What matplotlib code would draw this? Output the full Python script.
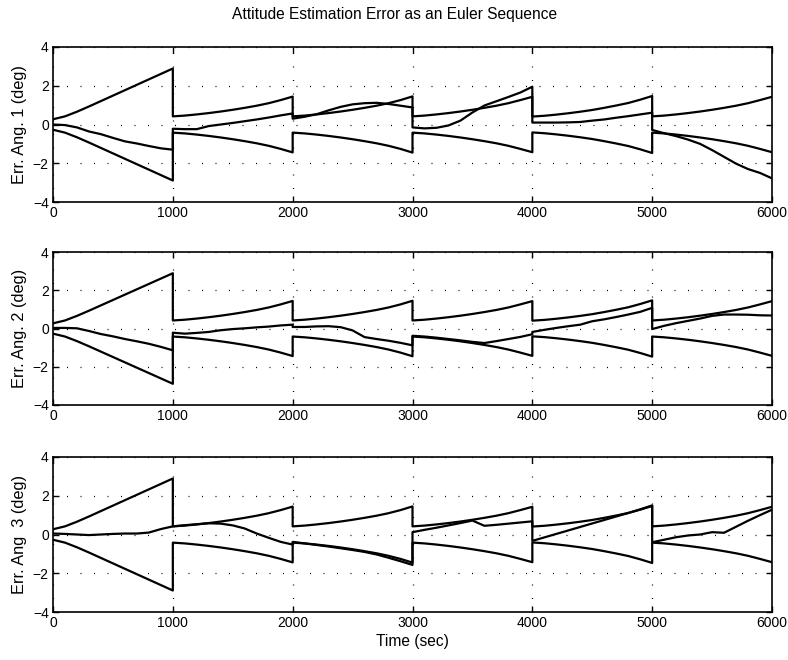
"""Attitude estimation error (3 Euler angles) with +/- bound envelope, MATLAB-style figure."""
import numpy as np
import matplotlib
matplotlib.use('Agg')
import matplotlib.pyplot as plt

plt.rcParams['font.family'] = ['Liberation Sans', 'DejaVu Sans']

# time grid: 100 s steps, every 1000 s the filter resets (duplicated time -> vertical jump)
SEG_STARTS = [0, 1000, 2000, 3000, 4000, 5000]
t = np.concatenate([np.arange(s, s + 1001, 100) for s in SEG_STARTS])

# envelope (deg), same for all three angles; lower envelope is its mirror
bound = (
    [0.27, 0.42, 0.66, 0.93, 1.21, 1.49, 1.77, 2.05, 2.33, 2.61, 2.89]
    + [0.42, 0.46, 0.52, 0.59, 0.67, 0.76, 0.86, 0.97, 1.10, 1.26, 1.44]
    + [0.42, 0.46, 0.52, 0.59, 0.67, 0.76, 0.86, 0.97, 1.10, 1.26, 1.45]
    + [0.42, 0.46, 0.52, 0.59, 0.67, 0.76, 0.86, 0.97, 1.10, 1.26, 1.43]
    + [0.41, 0.45, 0.51, 0.58, 0.66, 0.75, 0.86, 0.98, 1.11, 1.28, 1.47]
    + [0.42, 0.46, 0.52, 0.59, 0.67, 0.76, 0.86, 0.97, 1.10, 1.26, 1.43]
)

err1 = (
    [0.00, -0.03, -0.15, -0.36, -0.50, -0.69, -0.87, -0.98, -1.11, -1.23, -1.30]
    + [-0.22, -0.24, -0.24, -0.08, 0.00, 0.08, 0.17, 0.26, 0.36, 0.47, 0.57]
    + [0.30, 0.40, 0.53, 0.73, 0.91, 1.04, 1.10, 1.12, 1.06, 0.97, 0.88]
    + [-0.15, -0.20, -0.17, -0.05, 0.20, 0.62, 0.98, 1.20, 1.42, 1.65, 1.95]
    + [0.10, 0.10, 0.10, 0.11, 0.13, 0.20, 0.26, 0.35, 0.43, 0.52, 0.61]
    + [-0.28, -0.45, -0.60, -0.78, -1.00, -1.32, -1.67, -2.02, -2.30, -2.50, -2.78]
)

err2 = (
    [0.03, 0.03, 0.01, -0.13, -0.29, -0.41, -0.55, -0.67, -0.80, -0.96, -1.14]
    + [-0.22, -0.27, -0.23, -0.18, -0.09, -0.03, 0.01, 0.06, 0.10, 0.16, 0.20]
    + [0.08, 0.08, 0.11, 0.12, 0.07, -0.10, -0.45, -0.55, -0.64, -0.75, -0.88]
    + [-0.38, -0.42, -0.48, -0.55, -0.62, -0.70, -0.76, -0.66, -0.55, -0.44, -0.30]
    + [-0.18, -0.07, 0.03, 0.12, 0.20, 0.38, 0.48, 0.60, 0.73, 0.87, 1.08]
    + [-0.03, 0.14, 0.28, 0.40, 0.52, 0.66, 0.73, 0.73, 0.72, 0.69, 0.68]
)

err3 = (
    [0.05, 0.03, 0.00, -0.03, 0.00, 0.03, 0.05, 0.05, 0.10, 0.28, 0.42]
    + [0.42, 0.48, 0.53, 0.58, 0.56, 0.47, 0.31, 0.05, -0.17, -0.38, -0.52]
    + [-0.38, -0.46, -0.54, -0.62, -0.71, -0.80, -0.90, -1.03, -1.20, -1.38, -1.57]
    + [0.12, 0.24, 0.35, 0.47, 0.59, 0.72, 0.45, 0.50, 0.56, 0.62, 0.68]
    + [-0.33, -0.15, 0.03, 0.21, 0.39, 0.57, 0.75, 0.93, 1.11, 1.30, 1.50]
    + [-0.40, -0.27, -0.14, -0.05, 0.00, 0.12, 0.09, 0.40, 0.71, 1.00, 1.28]
)

errors = [err1, err2, err3]
ylabels = ['Err. Ang. 1 (deg)', 'Err. Ang. 2 (deg)', 'Err. Ang  3 (deg)']
xticks = [0, 1000, 2000, 3000, 4000, 5000, 6000]
yticks = [-4, -2, 0, 2, 4]

W, H = 788, 660
fig = plt.figure(figsize=(W / 100, H / 100), dpi=100)
# axes boxes in pixels (left, top, right, bottom)
boxes = [(53, 47, 772, 202), (53, 252, 772, 405), (53, 457, 772, 612)]

b = np.array(bound)
for (l, tp, r, bt), err, lab in zip(boxes, errors, ylabels):
    ax = fig.add_axes([l / W, 1 - bt / H, (r - l) / W, (bt - tp) / H])
    ax.plot(t, b, color='k', lw=1.6)
    ax.plot(t, -b, color='k', lw=1.6)
    ax.plot(t, err, color='k', lw=1.6)
    ax.set_xlim(0, 6000); ax.set_ylim(-4, 4)
    ax.set_xticks(xticks); ax.set_yticks(yticks)
    ax.grid(True, color='k', linestyle=(0, (0.8, 10)), linewidth=0.9)
    ax.tick_params(direction='in', top=True, right=True, length=4, width=1,
                   labelsize=10, pad=3)
    for sp in ax.spines.values():
        sp.set_linewidth(1.2)
    ax.set_ylabel(lab, fontsize=11.8)

ax.set_xlabel('Time (sec)', fontsize=11.2, labelpad=3)
fig.text(395 / W, 1 - 14 / H, 'Attitude Estimation Error as an Euler Sequence',
         ha='center', va='center', fontsize=11.2)

fig.savefig('out.png', dpi=100)
